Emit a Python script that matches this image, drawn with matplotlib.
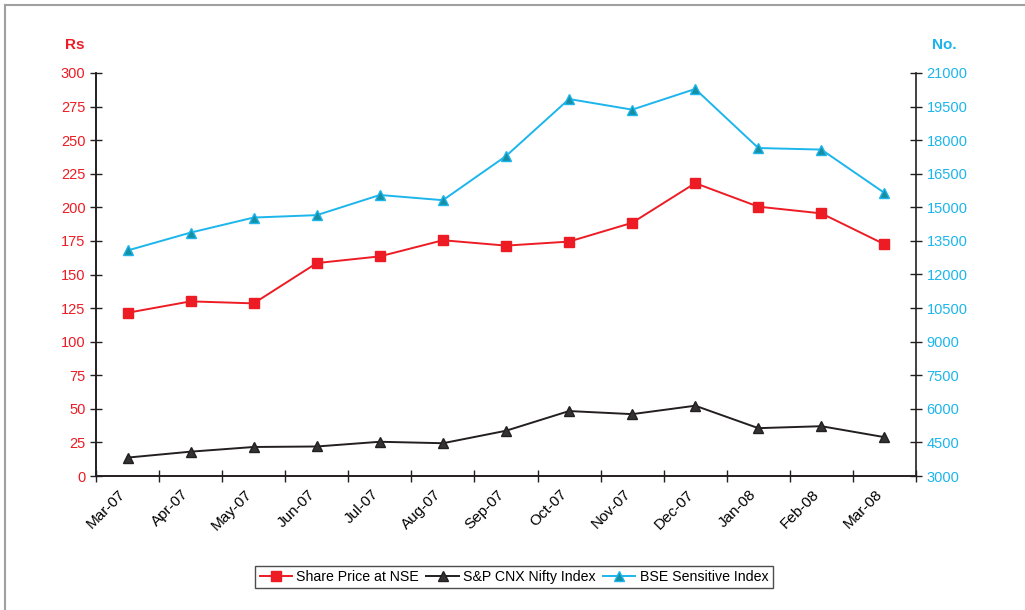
import numpy as np
import matplotlib.pyplot as plt
from matplotlib.lines import Line2D
from matplotlib.transforms import ScaledTranslation

plt.rcParams['font.family'] = ['Liberation Sans', 'DejaVu Sans']

months = ['Mar-07', 'Apr-07', 'May-07', 'Jun-07', 'Jul-07', 'Aug-07', 'Sep-07',
          'Oct-07', 'Nov-07', 'Dec-07', 'Jan-08', 'Feb-08', 'Mar-08']
share_price = [121.5, 130, 128.5, 158.5, 163.5, 175.5, 171.5, 174.5, 188.5, 218, 200.5, 195.5, 172.5]
nifty = [3822, 4087, 4296, 4318, 4529, 4464, 5021, 5901, 5763, 6139, 5137, 5224, 4735]
sensex = [13072, 13872, 14544, 14651, 15551, 15319, 17291, 19838, 19363, 20287, 17649, 17579, 15644]

red = '#ED1C24'
blue = '#1CB5EC'
black = '#231F20'

fig = plt.figure(figsize=(10.25, 6.10), dpi=100)
ax = fig.add_axes([96/1025, 1 - 476/610, 820/1025, 403/610])
ax2 = ax.twinx()

x = np.arange(len(months))
ax.plot(x, share_price, '-s', color=red, lw=1.4, markersize=6.5, mfc=red, mec=red,
        label='Share Price at NSE', zorder=3)
ax2.plot(x, nifty, '-^', color=black, lw=1.4, markersize=7, mfc='#333333', mec=black,
         label='S&P CNX Nifty Index')
ax2.plot(x, sensex, '-^', color=blue, lw=1.4, markersize=7, mfc='#168FA3', mec=blue,
         label='BSE Sensitive Index')

ax.set_xlim(-0.5, len(months) - 0.5)
ax.set_ylim(0, 300)
ax2.set_ylim(3000, 21000)
ax.set_yticks(np.arange(0, 301, 25))
ax2.set_yticks(np.arange(3000, 21001, 1500))

# ticks on category boundaries, labels on category centres
ax.set_xticks(np.arange(-0.5, len(months), 1))
ax.set_xticklabels([])
ax.set_xticks(x, minor=True)
ax.set_xticklabels(months, minor=True, rotation=45, ha='right', rotation_mode='anchor',
                   fontsize=11)
ax.tick_params(axis='x', which='major', direction='inout', length=9, width=1, color=black)
ax.tick_params(axis='x', which='minor', length=0, pad=8)
shift = ScaledTranslation(-9/100, 0, fig.dpi_scale_trans)
for lab in ax.get_xticklabels(minor=True):
    lab.set_transform(lab.get_transform() + shift)

ax.tick_params(axis='y', direction='inout', length=9, width=1, labelcolor=red,
               labelsize=10.5, color=black, pad=3)
ax2.tick_params(axis='y', direction='inout', length=9, width=1, labelcolor=blue,
                labelsize=10.5, color=black, pad=3)

for a in (ax, ax2):
    a.spines['top'].set_visible(False)
    for s in ('left', 'right', 'bottom'):
        a.spines[s].set_color(black)
        a.spines[s].set_linewidth(1.2)
ax.spines['right'].set_visible(False)

fig.text(75/1025, 1 - 45/610, 'Rs', color=red, fontsize=11, fontweight='bold',
         ha='center', va='center')
fig.text(944/1025, 1 - 45/610, 'No.', color=blue, fontsize=11, fontweight='bold',
         ha='center', va='center')

h1, l1 = ax.get_legend_handles_labels()
h2, l2 = ax2.get_legend_handles_labels()
leg = fig.legend(h1 + h2, l1 + l2, loc='center', bbox_to_anchor=(514/1025, 1 - 577/610),
                 ncol=3, fontsize=10.2, frameon=True, fancybox=False, handlelength=2.3,
                 handletextpad=0.3, columnspacing=0.5, borderpad=0.3, borderaxespad=0)
leg.get_frame().set_edgecolor(black)
leg.get_frame().set_linewidth(1)

# grey outer frame (left and top only visible)
fig.add_artist(Line2D([5/1025, 5/1025], [0, 1 - 5/610], color='#A0A0A0', lw=1.5,
                      transform=fig.transFigure))
fig.add_artist(Line2D([5/1025, 1], [1 - 5/610, 1 - 5/610], color='#A0A0A0', lw=1.5,
                      transform=fig.transFigure))

fig.savefig('out.png', dpi=100)
